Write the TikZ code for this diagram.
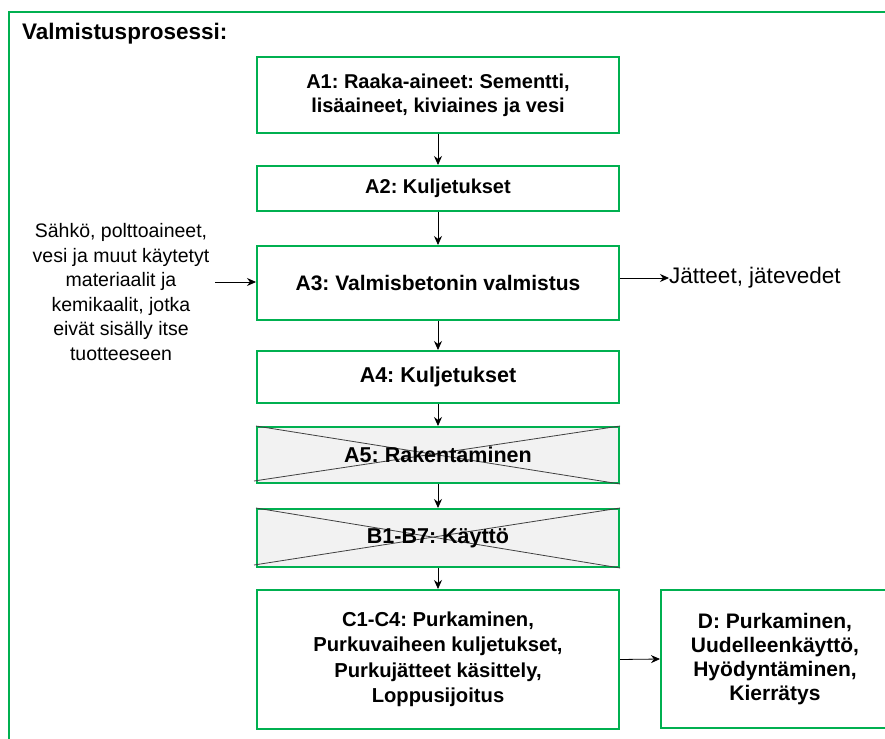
\documentclass[tikz,border=0pt]{standalone}
\usepackage{fontspec}
\setmainfont{Liberation Sans}
\usetikzlibrary{arrows.meta}
\definecolor{grn}{HTML}{00B050}
\definecolor{crossfill}{HTML}{F2F2F2}
\frenchspacing
\begin{document}
\begin{tikzpicture}[x=1pt,y=-1pt,
  box/.style={draw=grn,line width=2pt,fill=white,minimum width=362pt,inner sep=0pt,align=center},
  crossbox/.style={box,fill=crossfill},
  fs/.style={font=\bfseries\fontsize{#1}{24}\selectfont},
  plain/.style={font=\fontsize{19.5}{24.6}\selectfont,align=center,inner sep=0pt},
  arr/.style={-{Stealth[length=9pt,width=8pt]},line width=0.8pt,black},
  crossline/.style={line width=0.8pt,black!75},
]
\useasboundingbox (0,0) rectangle (885,738);
\begin{scope}
\clip (0,0) rectangle (885,738);
\draw[grn,line width=1.5pt] (900,12) -- (9,12) -- (9,760);
\node[anchor=west,inner sep=0pt,font=\bfseries\fontsize{22.5}{24}\selectfont] (title) at (22,34) {Valmistusprosessi:};

\node[box,minimum height=76pt,fs=20] (a1) at (438,95) {A1: Raaka-aineet: Sementti,\\lisäaineet, kiviaines ja vesi};
\node[box,minimum height=45pt,fs=20] (a2) at (438,188.5) {A2: Kuljetukset};
\node[box,minimum height=74pt,fs=21] (a3) at (438,283) {A3: Valmisbetonin valmistus};
\node[box,minimum height=52pt,fs=21.5] (a4) at (438,377) {A4: Kuljetukset};
\node[crossbox,minimum height=56pt] (a5) at (438,455) {};
\draw[crossline] (a5.north west) -- (a5.south east);
\draw[crossline] ([xshift=-2pt,yshift=3pt]a5.south west) -- (a5.north east);
\node[fs=21.5] (a5t) at (a5.center) {A5: Rakentaminen};
\node[crossbox,minimum height=58pt] (b) at (438,538) {};
\draw[crossline] (b.north west) -- (b.south east);
\draw[crossline] ([xshift=-2pt,yshift=3pt]b.south west) -- (b.north east);
\node[fs=21.5] (bt) at (b.center) {B1-B7: Käyttö};
\node[box,minimum height=139pt,font=\bfseries\fontsize{20.2}{25.5}\selectfont] (c) at (438,659.5) {C1-C4: Purkaminen,\\Purkuvaiheen kuljetukset,\\Purkujätteet käsittely,\\Loppusijoitus};
\node[box,minimum width=228pt,minimum height=138pt,font=\bfseries\fontsize{21}{24}\selectfont] (d) at (775,659) {D: Purkaminen,\\Uudelleenkäyttö,\\Hyödyntäminen,\\Kierrätys};

\draw[arr] (a1.south) -- (a2.north);
\draw[arr] (a2.south) -- (a3.north);
\draw[arr] (a3.south) -- (a4.north);
\draw[arr] (a4.south) -- (a5.north);
\draw[arr] (a5.south) -- (b.north);
\draw[arr] (b.south) -- (c.north);
\draw[arr] (c.east) -- (d.west);

\node[plain] (inp) at (121,292) {Sähkö, polttoaineet,\\vesi ja muut käytetyt\\materiaalit ja\\kemikaalit, jotka\\eivät sisälly itse\\tuotteeseen};
\coordinate (inS) at (215,282);
\draw[arr] (inS) -- (inS -| a3.west);
\node[anchor=west,inner sep=0pt,font=\fontsize{22.5}{24}\selectfont] (out) at (669,278) {Jätteet, jätevedet};
\draw[arr] (a3.east |- out.west) -- (out.west);
\end{scope}
\end{tikzpicture}
\end{document}
